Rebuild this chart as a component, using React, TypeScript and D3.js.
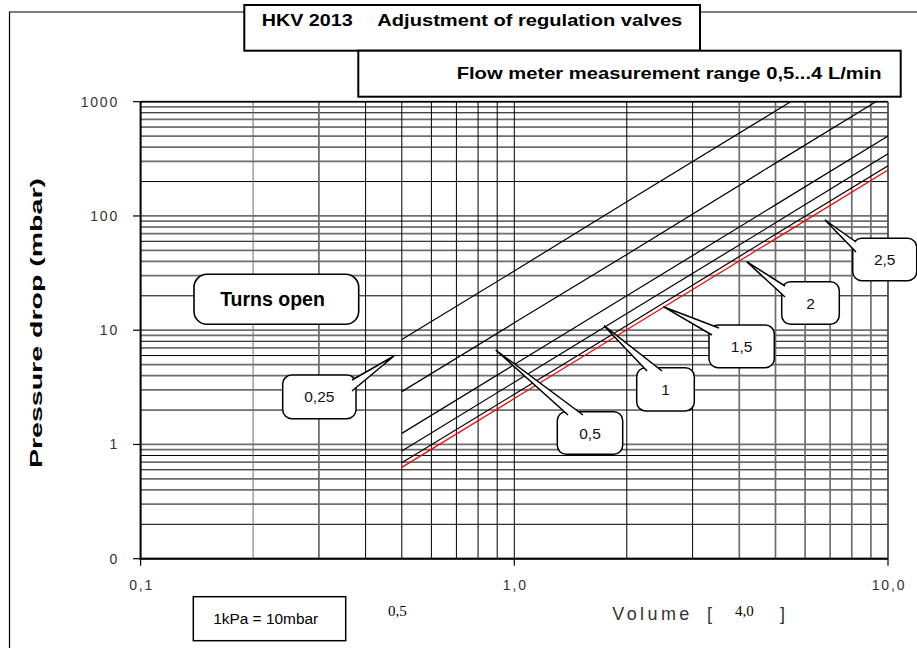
import React from "react";
import * as d3 from "d3";

// ---- data ----
const volumes = [0.5, 1, 2, 5, 10];
const turns025 = [8.3, 33, 133, 830, 3320];
const turns05 = [2.9, 11.6, 46, 290, 1160];
const turns1 = [1.25, 5.0, 20, 125, 500];
const turns15 = [0.875, 3.5, 14, 87, 350];
const turns2 = [0.69, 2.75, 11, 69, 275];
const turns25 = [0.63, 2.52, 10.1, 63, 252];
const seriesList = [turns025, turns05, turns1, turns15, turns2, turns25];
const seriesColors = ["#000", "#000", "#000", "#000", "#000", "#ff0000"];

const yTickValues = [1000, 100, 10, 1, 0.1];
const yTickLabels = ["1000", "100", "10", "1", "0"];
const xTickValues = [0.1, 1, 10];
const xTickLabels = ["0,1", "1,0", "10,0"];

const turnLabels = ["0,25", "0,5", "1", "1,5", "2", "2,5"];

const W = 917;
const H = 648;
const L = 140.6, R = 888, T = 101.7, B = 558.7;

export default function App() {
  const x = d3.scaleLog().domain([0.1, 10]).range([L, R]);
  const y = d3.scaleLog().domain([0.1, 1000]).range([B, T]);
  const line = d3
    .line<number>()
    .x((_, i) => x(volumes[i]))
    .y((d) => y(d));

  // grid
  const hGrid: { v: number; m: number }[] = [];
  for (let k = -1; k <= 2; k++) {
    for (let m = 1; m <= 9; m++) hGrid.push({ v: m * Math.pow(10, k), m });
  }
  hGrid.push({ v: 1000, m: 1 });
  const hStyle = (m: number) => {
    if (m === 1 || m === 3 || m === 4 || m === 5 || m === 7 || m === 9)
      return { stroke: "#6e6e6e", w: 1.8 };
    return { stroke: "#000", w: 1 };
  };
  const vGrid: number[] = [];
  for (let k = -1; k <= 0; k++) {
    for (let m = 1; m <= 9; m++) vGrid.push(m * Math.pow(10, k));
  }
  vGrid.push(10);
  const vStyle = (v: number) => {
    if (v < 0.35) return { stroke: "#6e6e6e", w: v > 0.25 ? 1.8 : 1 };
    if (v > 3.5 && v < 9.95) return { stroke: "#6e6e6e", w: 1.7 };
    return { stroke: "#000", w: 1 };
  };

  const callouts = [
    { label: turnLabels[0], bx: 282.7, by: 375, bw: 73.3, bh: 43.7, tail: [[352, 380], [394, 356], [352, 391]] },
    { label: turnLabels[1], bx: 557.3, by: 411.7, bw: 65.4, bh: 42.6, tail: [[568, 415], [495.7, 350], [583, 415]] },
    { label: turnLabels[2], bx: 636.7, by: 367.7, bw: 57.6, bh: 43.3, tail: [[647, 371], [604, 325.7], [662, 371]] },
    { label: turnLabels[3], bx: 709, by: 325, bw: 65.3, bh: 42.7, tail: [[712, 335], [663.3, 306.7], [719, 328]] },
    { label: turnLabels[4], bx: 781.7, by: 281.7, bw: 57.6, bh: 42.6, tail: [[785, 286], [746.7, 261.7], [785, 297]] },
    { label: turnLabels[5], bx: 852.7, by: 238.3, bw: 64, bh: 42.4, tail: [[856, 242], [825, 220], [856, 252]] },
  ];

  const tickFont = "Arial, 'Liberation Sans', Roboto, sans-serif";
  const serif = "'Liberation Serif', 'Times New Roman', 'DejaVu Serif', serif";

  return (
    <svg
      width={W}
      height={H}
      style={{ position: "absolute", left: 0, top: 0, background: "#fff" }}
      fontFamily={tickFont}
    >
      <defs>
        <clipPath id="plotClip">
          <rect x={L} y={T} width={R - L} height={B - T} />
        </clipPath>
      </defs>
      <rect x={0} y={0} width={W} height={H} fill="#fff" />

      {/* outer frame */}
      <line x1={9.5} y1={12} x2={9.5} y2={H} stroke="#000" strokeWidth={1.2} />
      <line x1={9} y1={12} x2={245} y2={12} stroke="#000" strokeWidth={1.2} />
      <line x1={700} y1={12} x2={W} y2={12} stroke="#000" strokeWidth={1.2} />

      {/* horizontal grid */}
      {hGrid.map((g, i) => {
        const s = hStyle(g.m);
        return (
          <line key={"h" + i} x1={L} x2={R} y1={y(g.v)} y2={y(g.v)} stroke={s.stroke} strokeWidth={s.w} />
        );
      })}
      {/* vertical grid */}
      {vGrid.map((v, i) => {
        const s = vStyle(v);
        return <line key={"v" + i} x1={x(v)} x2={x(v)} y1={T} y2={B} stroke={s.stroke} strokeWidth={s.w} />;
      })}

      {/* plot border / axes */}
      <line x1={L} x2={R} y1={T} y2={T} stroke="#000" strokeWidth={1.5} />
      <line x1={R} x2={R} y1={T} y2={B} stroke="#555" strokeWidth={1.5} />
      <line x1={L} x2={L} y1={T} y2={B + 1} stroke="#000" strokeWidth={2} />
      <line x1={L - 1} x2={R} y1={B} y2={B} stroke="#000" strokeWidth={2} />

      {/* y ticks */}
      {yTickValues.map((v, i) => (
        <g key={"yt" + i}>
          <line x1={133} x2={L} y1={y(v)} y2={y(v)} stroke="#000" strokeWidth={1.2} />
          <text
            x={119}
            y={y(v) + 5}
            textAnchor="end"
            fontSize={14}
            letterSpacing={1.8}
            fill="#333"
          >
            {yTickLabels[i]}
          </text>
        </g>
      ))}
      {/* x ticks */}
      {xTickValues.map((v, i) => (
        <g key={"xt" + i}>
          <line x1={x(v)} x2={x(v)} y1={B} y2={B + 7} stroke="#000" strokeWidth={1.2} />
          <text
            x={x(v) + 1}
            y={590}
            textAnchor="middle"
            fontSize={14}
            letterSpacing={1.8}
            fill="#333"
          >
            {xTickLabels[i]}
          </text>
        </g>
      ))}

      {/* series */}
      <g clipPath="url(#plotClip)">
        {seriesList.map((s, i) => (
          <path key={"s" + i} d={line(s) || ""} fill="none" stroke={seriesColors[i]} strokeWidth={1.2} />
        ))}
      </g>

      {/* title boxes */}
      <rect x={244.3} y={5} width={455.7} height={45.7} fill="#fff" stroke="#000" strokeWidth={2} />
      <text x={261.7} y={26} fontSize={17} fontWeight="bold" textLength={91} lengthAdjust="spacingAndGlyphs">
        HKV 2013
      </text>
      <text x={377.3} y={26} fontSize={17} fontWeight="bold" textLength={305} lengthAdjust="spacingAndGlyphs">
        Adjustment of regulation valves
      </text>
      <rect x={358.3} y={50.7} width={542.4} height={46} fill="#fff" stroke="#000" strokeWidth={2} />
      <text x={456.7} y={79} fontSize={17} fontWeight="bold" textLength={425} lengthAdjust="spacingAndGlyphs">
        Flow meter measurement range 0,5...4 L/min
      </text>

      {/* Turns open */}
      <rect x={194} y={274.3} width={164.7} height={50} rx={13} ry={13} fill="#fff" stroke="#000" strokeWidth={1.6} />
      <text x={272.5} y={305.5} textAnchor="middle" fontSize={19.5} fontWeight="bold">
        Turns open
      </text>

      {/* callouts */}
      {callouts.map((c, i) => (
        <g key={"c" + i}>
          <rect x={c.bx} y={c.by} width={c.bw} height={c.bh} rx={9} ry={9} fill="#fff" stroke="#000" strokeWidth={1.5} />
          <path
            d={`M${c.tail[0][0]},${c.tail[0][1]}L${c.tail[1][0]},${c.tail[1][1]}L${c.tail[2][0]},${c.tail[2][1]}`}
            fill="#fff"
            stroke="#000"
            strokeWidth={1.5}
            strokeLinejoin="miter"
          />
          <text
            x={c.bx + c.bw / 2}
            y={c.by + c.bh / 2 + 5.5}
            textAnchor="middle"
            fontSize={15.5}
            fill="#111"
          >
            {c.label}
          </text>
        </g>
      ))}

      {/* y axis title */}
      <text
        transform="translate(42,323) rotate(-90)"
        textAnchor="middle"
        fontSize={17}
        fontWeight="bold"
        textLength={290}
        lengthAdjust="spacingAndGlyphs"
      >
        Pressure drop  (mbar)
      </text>

      {/* bottom notes */}
      <rect x={193.3} y={596.7} width={152.4} height={44} fill="#fff" stroke="#000" strokeWidth={1.5} />
      <text x={265.7} y={624} textAnchor="middle" fontSize={14} textLength={105} lengthAdjust="spacingAndGlyphs">
        1kPa = 10mbar
      </text>
      <text x={388} y={616} fontSize={15} fontFamily={serif}>
        0,5
      </text>
      <text x={612.3} y={620} fontSize={18} fill="#333" letterSpacing={3.4}>
        Volume
      </text>
      <text x={707} y={620} fontSize={18} fill="#333">
        [
      </text>
      <text x={735} y={616} fontSize={15} fontFamily={serif}>
        4,0
      </text>
      <text x={780} y={620} fontSize={18} fill="#333">
        ]
      </text>
    </svg>
  );
}
